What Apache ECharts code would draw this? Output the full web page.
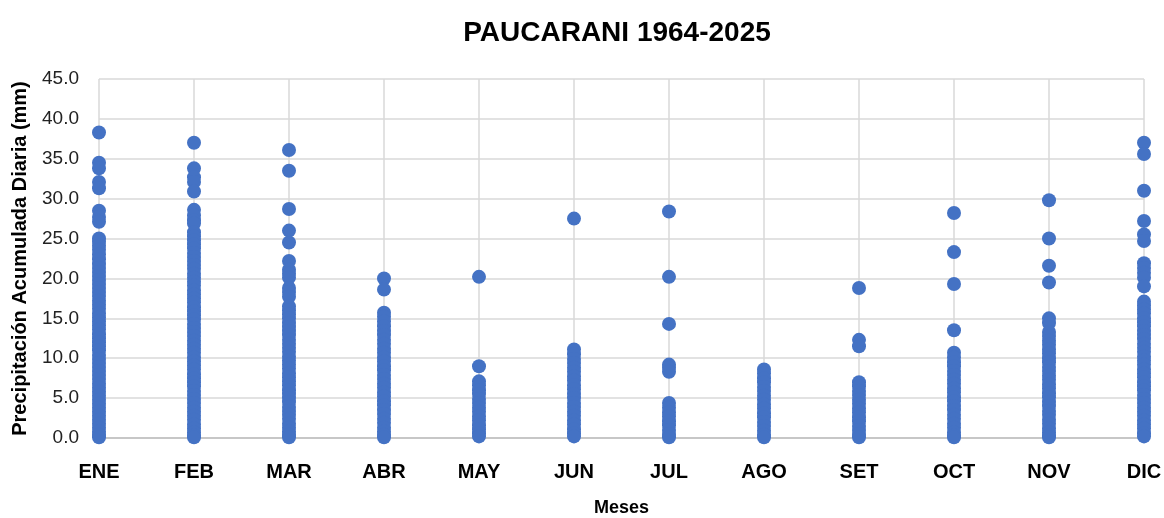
<!DOCTYPE html>
<html>
<head>
<meta charset="utf-8">
<title>PAUCARANI 1964-2025</title>
<script src="https://cdn.jsdelivr.net/npm/echarts@6/dist/echarts.min.js"></script>
<style>
  html, body { margin: 0; padding: 0; background: #fff; }
  #chart { width: 1164px; height: 518px; }
</style>
</head>
<body>
<div id="chart"></div>
<script>
// meses y valores (mm)
var meses = ['ENE', 'FEB', 'MAR', 'ABR', 'MAY', 'JUN', 'JUL', 'AGO', 'SET', 'OCT', 'NOV', 'DIC']
var yTicks = [0, 5, 10, 15, 20, 25, 30, 35, 40, 45]

var ene = [38.3, 34.5, 33.8, 32.1, 31.3, 28.5, 27.7, 27.1, 25.0, 24.6, 24.1, 23.6, 23.0, 22.4, 21.8, 21.3, 20.8, 20.3, 19.8, 19.3, 18.8, 18.3, 17.8, 17.2, 16.7, 16.2, 15.6, 15.1, 14.6, 14.1, 13.6, 13.0, 12.5, 12.0, 11.5, 11.0, 10.4, 9.9, 9.4, 8.9, 8.4, 7.9, 7.4, 6.8, 6.3, 5.8, 5.3, 4.8, 4.3, 3.8, 3.3, 2.8, 2.3, 1.8, 1.3, 0.8, 0.4, 0.1]
var feb = [37.0, 33.8, 32.7, 32.1, 30.9, 28.6, 27.9, 27.3, 26.9, 25.8, 25.3, 24.8, 24.3, 23.8, 23.2, 22.7, 22.2, 21.7, 21.2, 20.6, 20.1, 19.6, 19.1, 18.5, 18.0, 17.5, 17.0, 16.4, 15.9, 15.4, 14.9, 14.3, 13.8, 13.3, 12.8, 12.2, 11.7, 11.2, 10.7, 10.1, 9.6, 9.1, 8.6, 8.0, 7.5, 7.0, 6.5, 5.9, 5.4, 4.9, 4.4, 3.8, 3.3, 2.8, 2.3, 1.7, 1.2, 0.7, 0.3, 0.1]
var mar = [36.1, 33.5, 28.7, 26.0, 24.5, 22.2, 21.1, 20.6, 20.1, 18.8, 18.3, 17.7, 16.5, 16.0, 15.5, 15.0, 14.4, 13.9, 13.4, 12.9, 12.3, 11.8, 11.3, 10.8, 10.2, 9.7, 9.2, 8.7, 8.1, 7.6, 7.1, 6.6, 6.0, 5.5, 5.0, 4.5, 3.9, 3.4, 2.9, 2.4, 1.8, 1.3, 0.8, 0.4, 0.1]
var abr = [20.0, 18.6, 15.7, 15.2, 14.6, 14.0, 13.4, 12.9, 12.3, 11.8, 11.2, 10.7, 10.1, 9.6, 9.0, 8.5, 7.9, 7.4, 6.8, 6.3, 5.7, 5.2, 4.6, 4.1, 3.5, 3.0, 2.4, 1.9, 1.3, 0.8, 0.4, 0.1]
var may = [20.2, 9.0, 7.1, 6.6, 6.0, 5.5, 4.9, 4.4, 3.8, 3.3, 2.7, 2.2, 1.6, 1.1, 0.6, 0.2]
var jun = [27.5, 11.1, 10.5, 9.9, 9.4, 8.8, 8.3, 7.7, 7.2, 6.6, 6.1, 5.5, 5.0, 4.4, 3.9, 3.3, 2.8, 2.2, 1.7, 1.1, 0.6, 0.2]
var jul = [28.4, 20.2, 14.3, 9.2, 8.8, 8.3, 4.4, 3.8, 3.2, 2.7, 2.1, 1.6, 1.0, 0.5, 0.1]
var ago = [8.6, 8.1, 7.5, 7.0, 6.4, 5.9, 5.3, 4.8, 4.2, 3.7, 3.1, 2.6, 2.0, 1.5, 0.9, 0.4, 0.1]
var set = [18.8, 12.3, 11.5, 7.0, 6.5, 5.9, 5.4, 4.8, 4.3, 3.7, 3.2, 2.6, 2.1, 1.5, 1.0, 0.5, 0.1]
var oct = [28.2, 23.3, 19.3, 13.5, 10.7, 10.1, 9.5, 9.0, 8.4, 7.9, 7.3, 6.8, 6.2, 5.7, 5.1, 4.6, 4.0, 3.5, 2.9, 2.4, 1.8, 1.3, 0.7, 0.3, 0.1]
var nov = [29.8, 25.0, 21.6, 19.5, 15.0, 14.4, 13.3, 12.8, 12.2, 11.7, 11.1, 10.6, 10.0, 9.5, 8.9, 8.4, 7.8, 7.3, 6.7, 6.2, 5.6, 5.1, 4.5, 4.0, 3.4, 2.9, 2.3, 1.8, 1.2, 0.7, 0.3, 0.1]
var dic = [37.0, 35.6, 31.0, 27.2, 25.5, 24.7, 21.9, 21.3, 20.7, 20.1, 19.0, 17.1, 16.6, 16.1, 15.6, 15.0, 14.5, 14.0, 13.4, 12.9, 12.4, 11.8, 11.3, 10.8, 10.2, 9.7, 9.2, 8.6, 8.1, 7.6, 7.0, 6.5, 6.0, 5.4, 4.9, 4.4, 3.8, 3.3, 2.8, 2.2, 1.7, 1.2, 0.6, 0.2]

var porMes = [ene, feb, mar, abr, may, jun, jul, ago, set, oct, nov, dic]
var puntos = []
porMes.forEach(function (vals, i) {
  vals.forEach(function (v) { puntos.push([meses[i], v]) })
})

var chart = echarts.init(document.getElementById('chart'))
var option = {
  backgroundColor: '#fff',
  animation: false,
  title: {
    text: 'PAUCARANI 1964-2025',
    left: 612,
    top: 14,
    textAlign: 'center',
    textStyle: {
      fontFamily: 'Liberation Sans',
      fontSize: 28,
      fontWeight: 'bold',
      color: '#000'
    }
  },
  grid: {
    left: 99,
    right: 20,
    top: 79,
    bottom: 80,
    containLabel: false,
    outerBoundsMode: 'none'
  },
  xAxis: {
    type: 'category',
    data: meses,
    boundaryGap: false,
    name: 'Meses',
    nameLocation: 'middle',
    nameGap: 61,
    nameTextStyle: {
      fontFamily: 'Liberation Sans',
      fontSize: 18,
      fontWeight: 'bold',
      color: '#000'
    },
    axisLine: { lineStyle: { color: '#bfbfbf', width: 1.5 } },
    axisTick: { show: false },
    axisLabel: {
      margin: 24,
      fontFamily: 'Liberation Sans',
      fontSize: 20,
      fontWeight: 'bold',
      color: '#000'
    },
    splitLine: { show: true, lineStyle: { color: '#d9d9d9', width: 1.5 } }
  },
  yAxis: {
    type: 'value',
    min: yTicks[0],
    max: yTicks[yTicks.length - 1],
    interval: 5,
    name: 'Precipitación Acumulada Diaria (mm)',
    nameLocation: 'middle',
    nameGap: 69,
    nameTextStyle: {
      fontFamily: 'Liberation Sans',
      fontSize: 20,
      fontWeight: 'bold',
      color: '#000'
    },
    axisLine: { show: false },
    axisTick: { show: false },
    axisLabel: {
      margin: 20,
      fontFamily: 'Liberation Sans',
      fontSize: 19,
      color: '#222',
      formatter: function (v) { return v.toFixed(1) }
    },
    splitLine: { lineStyle: { color: '#d9d9d9', width: 1.5 } }
  },
  series: [
    {
      type: 'scatter',
      data: puntos,
      symbolSize: 14,
      itemStyle: { color: '#4472C4', opacity: 1 }
    }
  ]
}
chart.setOption(option)
</script>
</body>
</html>
